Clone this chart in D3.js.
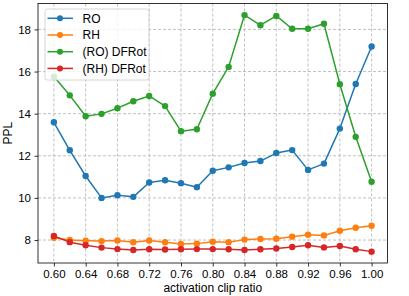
<!DOCTYPE html>
<html>
<head>
<meta charset="utf-8">
<script src="https://cdn.jsdelivr.net/npm/d3@7"></script>
<style>
  body { margin: 0; background: #fff; }
  svg { display: block; font-family: "Liberation Sans", Arial, sans-serif; }
</style>
</head>
<body>
<svg id="chart" width="409" height="296"></svg>
<script>
var ratios = [0.60, 0.62, 0.64, 0.66, 0.68, 0.70, 0.72, 0.74, 0.76, 0.78, 0.80,
	0.82, 0.84, 0.86, 0.88, 0.90, 0.92, 0.94, 0.96, 0.98, 1.00];

var ro = [13.59, 12.26, 11.04, 10.00, 10.13, 10.05, 10.73, 10.84, 10.70, 10.51, 11.29,
	11.45, 11.66, 11.75, 12.13, 12.27, 11.33, 11.63, 13.29, 15.41, 17.19];
var rh = [8.11, 8.00, 7.97, 7.95, 7.98, 7.90, 7.98, 7.90, 7.81, 7.83, 7.92,
	7.90, 8.02, 8.05, 8.06, 8.16, 8.25, 8.22, 8.44, 8.58, 8.68];
var roDfrot = [15.76, 14.87, 13.88, 13.99, 14.26, 14.59, 14.84, 14.36, 13.17, 13.26, 14.95,
	16.22, 18.68, 18.20, 18.64, 18.03, 18.03, 18.27, 15.40, 12.90, 10.77];
var rhDfrot = [8.19, 7.90, 7.75, 7.64, 7.57, 7.53, 7.56, 7.55, 7.56, 7.57, 7.57,
	7.56, 7.53, 7.56, 7.60, 7.67, 7.75, 7.65, 7.72, 7.56, 7.45];

var xTicks = [0.60, 0.64, 0.68, 0.72, 0.76, 0.80, 0.84, 0.88, 0.92, 0.96, 1.00];
var yTicks = [8, 10, 12, 14, 16, 18];

var series = [
	{name: "RO", values: ro, color: "#1f77b4"},
	{name: "RH", values: rh, color: "#ff7f0e"},
	{name: "(RO) DFRot", values: roDfrot, color: "#2ca02c"},
	{name: "(RH) DFRot", values: rhDfrot, color: "#d62728"}
];

var margin = {top: 3.5, right: 21.5, bottom: 33, left: 38};
var svg = d3.select("#chart");
var width = 409 - margin.left - margin.right;
var height = 296 - margin.top - margin.bottom;
var g = svg.append("g").attr("transform", "translate(" + margin.left + "," + margin.top + ")");

var x = d3.scaleLinear().domain([0.58, 1.02]).range([0, width]);
var y = d3.scaleLinear().domain([6.91, 19.23]).range([height, 0]);

// grid
g.append("g").selectAll("line")
	.data(xTicks).enter().append("line")
	.attr("x1", function(d){ return x(d); })
	.attr("x2", function(d){ return x(d); })
	.attr("y1", 0).attr("y2", height)
	.attr("stroke", "#b0b0b0").attr("stroke-width", 0.8)
	.attr("stroke-dasharray", "3,2");
g.append("g").selectAll("line")
	.data(yTicks).enter().append("line")
	.attr("x1", 0).attr("x2", width)
	.attr("y1", function(d){ return y(d); })
	.attr("y2", function(d){ return y(d); })
	.attr("stroke", "#b0b0b0").attr("stroke-width", 0.8)
	.attr("stroke-dasharray", "3,2");

// axes
var xAxis = g.append("g")
	.attr("transform", "translate(0," + height + ")")
	.call(d3.axisBottom(x).tickValues(xTicks).tickFormat(d3.format(".2f")).tickSizeOuter(0).tickSize(3.5).tickPadding(3.5));
var yAxis = g.append("g")
	.call(d3.axisLeft(y).tickValues(yTicks).tickSizeOuter(0).tickSize(3.5).tickPadding(3.5));
[xAxis, yAxis].forEach(function(a){
	a.select(".domain").remove();
	a.selectAll("text").attr("font-size", 11.5).attr("fill", "#000")
		.style("font-family", "'Liberation Sans', Arial, sans-serif");
	a.selectAll("line").attr("stroke", "#000").attr("stroke-width", 0.8);
});

// lines
var line = d3.line()
	.x(function(d, i){ return x(ratios[i]); })
	.y(function(d){ return y(d); });

series.forEach(function(s){
	g.append("path")
		.datum(s.values)
		.attr("fill", "none")
		.attr("stroke", s.color)
		.attr("stroke-width", 1.5)
		.attr("stroke-linejoin", "round")
		.attr("d", line);
	g.append("g").selectAll("circle")
		.data(s.values).enter().append("circle")
		.attr("cx", function(d, i){ return x(ratios[i]); })
		.attr("cy", function(d){ return y(d); })
		.attr("r", 3.2)
		.attr("fill", s.color);
});

// frame
g.append("rect")
	.attr("width", width).attr("height", height)
	.attr("fill", "none").attr("stroke", "#000").attr("stroke-width", 0.8);

// legend
var legend = g.append("g").attr("transform", "translate(7,5.5)");
legend.append("rect")
	.attr("width", 104).attr("height", 71)
	.attr("rx", 2.5)
	.attr("fill", "#fff").attr("fill-opacity", 0.8)
	.attr("stroke", "#cccccc").attr("stroke-width", 0.8);
series.forEach(function(s, i){
	var row = legend.append("g").attr("transform", "translate(0," + (9.3 + i * 16.7) + ")");
	row.append("line")
		.attr("x1", 2.5).attr("x2", 28)
		.attr("stroke", s.color).attr("stroke-width", 1.5);
	row.append("circle").attr("cx", 15).attr("r", 3).attr("fill", s.color);
	row.append("text")
		.attr("x", 37.5).attr("dy", "0.35em")
		.attr("font-size", 12)
		.text(s.name);
});

// axis labels
svg.append("text")
	.attr("x", margin.left + width / 2)
	.attr("y", 292)
	.attr("text-anchor", "middle")
	.attr("font-size", 12)
	.text("activation clip ratio");
svg.append("text")
	.attr("transform", "translate(12," + (margin.top + height / 2) + ") rotate(-90)")
	.attr("text-anchor", "middle")
	.attr("font-size", 12)
	.text("PPL");
</script>
</body>
</html>
